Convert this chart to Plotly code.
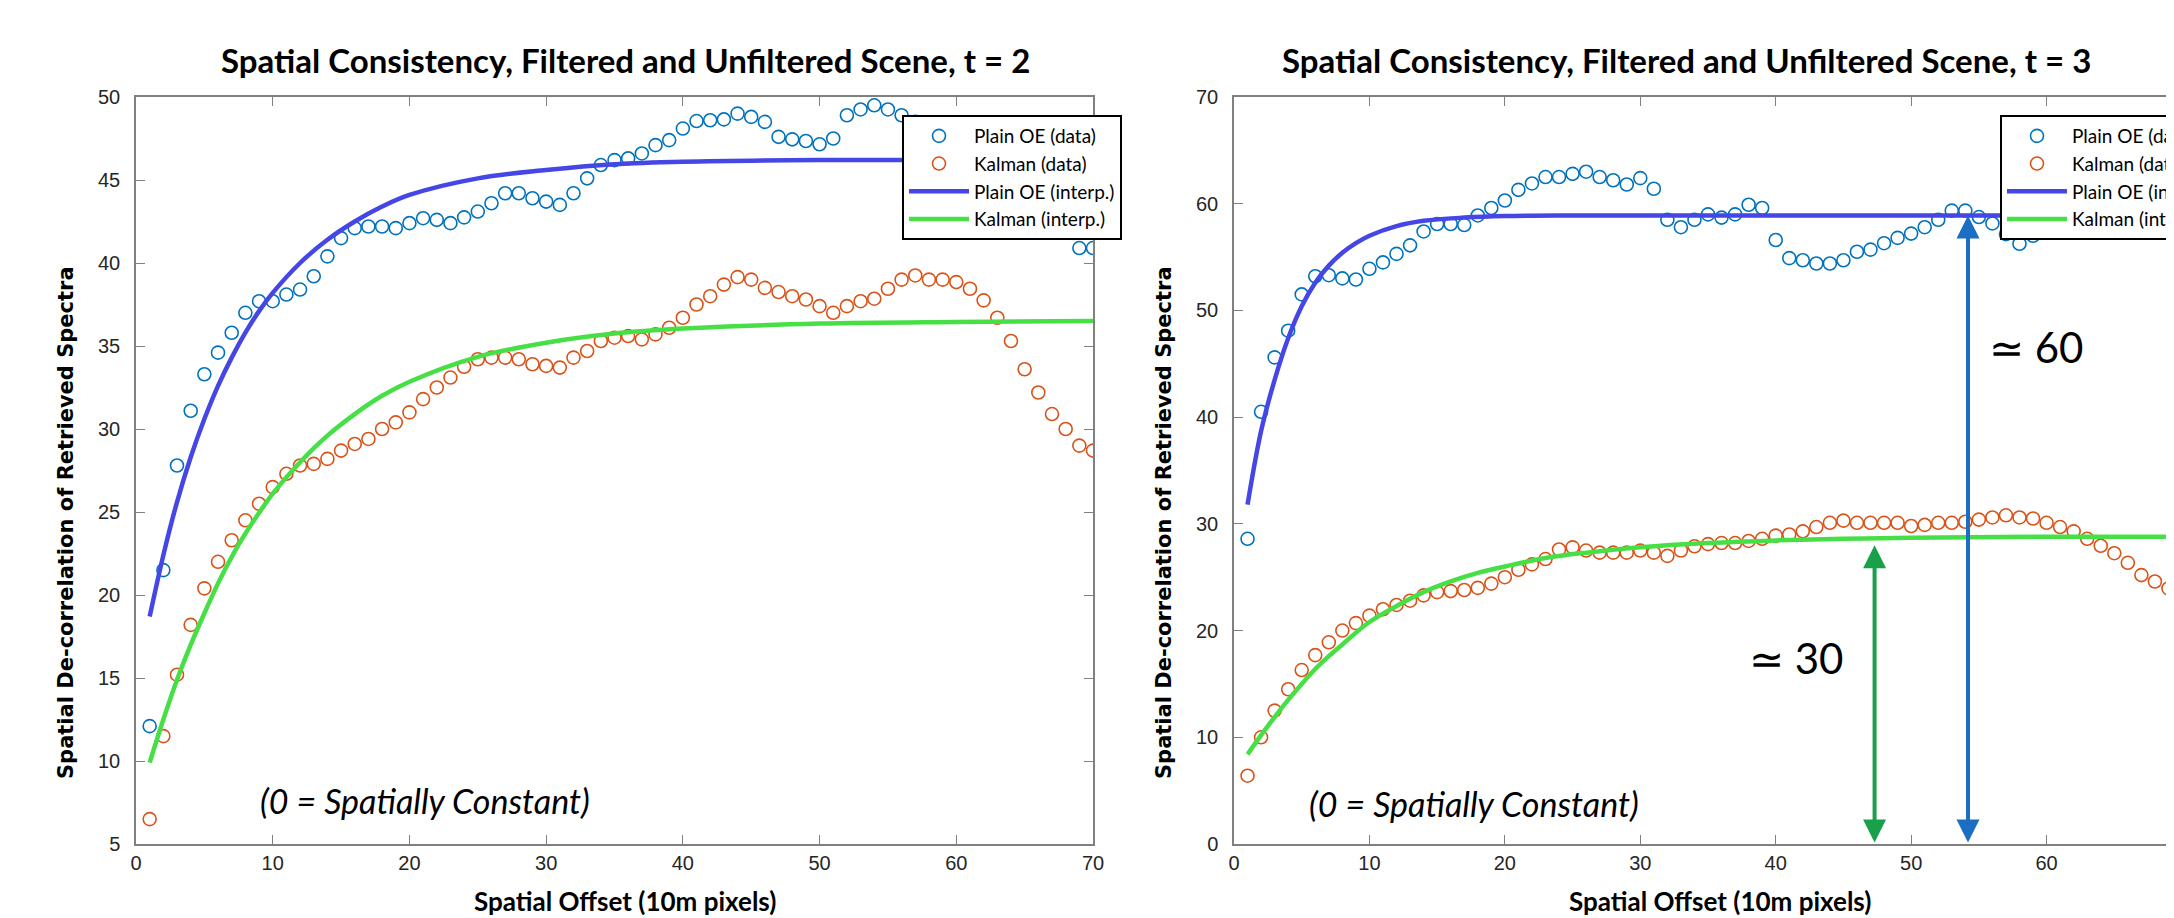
import plotly.graph_objects as go

# ---------------- data ----------------
offsets = list(range(1, 71))

left_plain = [12.1, 21.5, 27.8, 31.1, 33.3, 34.6, 35.8, 37.0, 37.7, 37.7,
              38.1, 38.4, 39.2, 40.4, 41.5, 42.1, 42.2, 42.2, 42.1, 42.4,
              42.7, 42.6, 42.4, 42.75, 43.1, 43.6, 44.2, 44.2, 43.9, 43.7,
              43.5, 44.2, 45.1, 45.9, 46.2, 46.3, 46.6, 47.1, 47.4, 48.1,
              48.55, 48.6, 48.65, 49.0, 48.8, 48.5, 47.6, 47.45, 47.35, 47.15,
              47.5, 48.9, 49.25, 49.5, 49.25, 48.9, 48.5, 48.2, 47.9, 47.6,
              47.2, 46.7, 46.1, 45.5, 44.8, 44.0, 43.2, 42.4, 40.9, 40.9]
left_kalman = [6.5, 11.5, 15.2, 18.2, 20.4, 22.0, 23.3, 24.5, 25.5, 26.5,
               27.3, 27.8, 27.9, 28.2, 28.7, 29.1, 29.4, 30.0, 30.4, 31.0,
               31.8, 32.5, 33.1, 33.75, 34.2, 34.3, 34.3, 34.2, 33.9, 33.8,
               33.7, 34.3, 34.7, 35.3, 35.5, 35.6, 35.4, 35.7, 36.1, 36.7,
               37.5, 38.0, 38.7, 39.15, 39.0, 38.5, 38.25, 38.0, 37.8, 37.4,
               37.0, 37.4, 37.7, 37.85, 38.45, 39.0, 39.25, 39.0, 39.0, 38.85,
               38.45, 37.75, 36.7, 35.3, 33.6, 32.2, 30.9, 30.0, 29.0, 28.7]

left_plain_fit_x = [1, 2, 3, 4, 5, 6, 7, 8, 9, 10, 12, 14, 16, 18, 20, 25, 30, 35, 40, 50, 60, 70]
left_plain_fit_y = [18.7, 22.4, 25.6, 28.3, 30.6, 32.6, 34.3, 35.8, 37.1, 38.2, 40.0, 41.4,
                    42.5, 43.4, 44.1, 45.1, 45.6, 45.95, 46.1, 46.2, 46.2, 46.2]
left_kalman_fit_x = [1, 2, 3, 4, 5, 6, 7, 8, 10, 12, 14, 16, 18, 20, 25, 30, 35, 40, 50, 60, 70]
left_kalman_fit_y = [9.9, 12.5, 14.9, 17.0, 18.9, 20.7, 22.3, 23.7, 26.1, 28.0, 29.6, 30.9,
                     32.0, 32.85, 34.35, 35.2, 35.75, 36.05, 36.35, 36.45, 36.5]

right_plain = [28.6, 40.5, 45.6, 48.1, 51.5, 53.2, 53.3, 53.0, 52.9, 53.9,
               54.5, 55.3, 56.1, 57.4, 58.1, 58.1, 58.0, 58.9, 59.6, 60.3,
               61.3, 61.9, 62.5, 62.5, 62.8, 63.0, 62.5, 62.2, 61.8, 62.4,
               61.4, 58.5, 57.8, 58.5, 59.0, 58.7, 59.0, 59.9, 59.6, 56.6,
               54.9, 54.7, 54.4, 54.4, 54.7, 55.5, 55.7, 56.3, 56.8, 57.2,
               57.8, 58.5, 59.35, 59.35, 58.75, 58.15, 57.15, 56.25, 57.0, 57.9,
               58.6, 59.1, 59.4, 59.6, 59.5, 59.3, 59.0, 58.8, 58.6, 58.5]
right_kalman = [6.4, 10.0, 12.5, 14.5, 16.3, 17.7, 18.9, 20.0, 20.7, 21.4,
                22.0, 22.4, 22.8, 23.3, 23.6, 23.7, 23.8, 24.0, 24.4, 25.0,
                25.7, 26.2, 26.7, 27.6, 27.8, 27.5, 27.3, 27.3, 27.3, 27.5,
                27.3, 27.0, 27.5, 27.9, 28.1, 28.2, 28.2, 28.4, 28.6, 28.9,
                29.0, 29.3, 29.7, 30.1, 30.3, 30.1, 30.1, 30.1, 30.1, 29.8,
                29.9, 30.1, 30.1, 30.2, 30.4, 30.6, 30.8, 30.6, 30.5, 30.1,
                29.7, 29.3, 28.6, 27.95, 27.25, 26.35, 25.2, 24.6, 23.95, 23.35]

right_plain_fit_x = [1, 2, 3, 4, 5, 6, 7, 8, 9, 10, 12, 14, 17, 20, 25, 40, 55, 70]
right_plain_fit_y = [31.8, 38.7, 43.5, 47.4, 50.4, 52.6, 54.2, 55.4, 56.3, 57.0, 57.9, 58.4,
                     58.7, 58.85, 58.9, 58.9, 58.9, 58.9]
right_kalman_fit_x = [1, 2, 3, 4, 5, 6, 7, 8, 10, 12, 14, 16, 18, 20, 23, 26, 30, 35, 40, 45, 50, 60, 70]
right_kalman_fit_y = [8.4, 10.2, 11.9, 13.5, 15.0, 16.4, 17.6, 18.7, 20.8, 22.3, 23.6, 24.6,
                      25.4, 26.0, 26.8, 27.3, 27.8, 28.2, 28.45, 28.6, 28.7, 28.8, 28.8]

series_names = ["Plain OE (data)", "Kalman (data)", "Plain OE (interp.)", "Kalman (interp.)"]
titles = ["Spatial Consistency, Filtered and Unfiltered Scene, t = 2",
          "Spatial Consistency, Filtered and Unfiltered Scene, t = 3"]
x_title = "Spatial Offset (10m pixels)"
y_title = "Spatial De-correlation of Retrieved Spectra"
note_text = "(0 = Spatially Constant)"
left_yticks = list(range(5, 51, 5))
right_yticks = list(range(0, 71, 10))
xticks = list(range(0, 71, 10))

# arrows on right panel (x position, top value)
blue_arrow = (54.2, 58.9)
green_arrow = (47.3, 28.0)

# ---------------- styles ----------------
C_BLUE_PT = "#0072BD"
C_ORANGE_PT = "#D95319"
C_BLUE_LN = "#4646E6"
C_GREEN_LN = "#46E046"
W, H = 2174, 918
TITLE_FONT = "Lato, 'Open Sans', sans-serif"
TICK_FONT = dict(family="'Liberation Sans', Arial, sans-serif", size=20, color="#262626")

fig = go.Figure()


def add_panel(xa, ya, leg, plain, kalman, pfx, pfy, kfx, kfy):
    fig.add_trace(go.Scatter(x=offsets, y=plain, mode="markers", name=series_names[0],
                             marker=dict(symbol="circle-open", size=13, color=C_BLUE_PT,
                                         line=dict(width=1.6, color=C_BLUE_PT)),
                             xaxis=xa, yaxis=ya, legend=leg))
    fig.add_trace(go.Scatter(x=offsets, y=kalman, mode="markers", name=series_names[1],
                             marker=dict(symbol="circle-open", size=13, color=C_ORANGE_PT,
                                         line=dict(width=1.6, color=C_ORANGE_PT)),
                             xaxis=xa, yaxis=ya, legend=leg))
    fig.add_trace(go.Scatter(x=pfx, y=pfy, mode="lines", name=series_names[2],
                             line=dict(color=C_BLUE_LN, width=4.5, shape="spline"),
                             xaxis=xa, yaxis=ya, legend=leg))
    fig.add_trace(go.Scatter(x=kfx, y=kfy, mode="lines", name=series_names[3],
                             line=dict(color=C_GREEN_LN, width=4.5, shape="spline"),
                             xaxis=xa, yaxis=ya, legend=leg))


add_panel("x", "y", "legend", left_plain, left_kalman,
          left_plain_fit_x, left_plain_fit_y, left_kalman_fit_x, left_kalman_fit_y)
add_panel("x2", "y2", "legend2", right_plain, right_kalman,
          right_plain_fit_x, right_plain_fit_y, right_kalman_fit_x, right_kalman_fit_y)

ydom = [1 - 836 / H, 1 - 89 / H]
axis_common = dict(showline=True, linecolor="#808080", linewidth=1.5, mirror="ticks",
                   ticks="inside", ticklen=9, tickwidth=1.2, tickcolor="#808080",
                   showgrid=False, zeroline=False, tickfont=TICK_FONT)

legend_common = dict(y=1 - 107 / H, xanchor="left", yanchor="top",
                     bgcolor="white", bordercolor="black", borderwidth=2,
                     font=dict(family=TITLE_FONT, size=19, color="black"),
                     itemwidth=60, tracegroupgap=0)

fig.update_layout(
    width=W, height=H,
    margin=dict(l=0, r=0, t=0, b=0, autoexpand=False),
    paper_bgcolor="white", plot_bgcolor="white",
    xaxis=dict(domain=[128 / W, 1085 / W], range=[0, 70], tickvals=xticks,
               anchor="y", ticklabelstandoff=0, **axis_common),
    yaxis=dict(domain=ydom, range=[5, 50], tickvals=left_yticks,
               anchor="x", ticklabelstandoff=10, **axis_common),
    xaxis2=dict(domain=[1226 / W, 1.0], range=[0, 70], tickvals=xticks,
                anchor="y2", ticklabelstandoff=0, **axis_common),
    yaxis2=dict(domain=ydom, range=[0, 70], tickvals=right_yticks,
                anchor="x2", ticklabelstandoff=10, **axis_common),
    legend=dict(x=894 / W, **legend_common),
    legend2=dict(x=1992 / W, **legend_common),
    showlegend=True,
)

ann = []
# titles
for cx, t in [(617, titles[0]), (1678, titles[1])]:
    ann.append(dict(text="<b>%s</b>" % t, x=cx / W, y=1 - 52 / H, xref="paper", yref="paper",
                    showarrow=False, xanchor="center", yanchor="middle",
                    font=dict(family=TITLE_FONT, size=33, color="black")))
# x titles
for cx in [617, 1712]:
    ann.append(dict(text="<b>%s</b>" % x_title, x=cx / W, y=1 - 893 / H, xref="paper", yref="paper",
                    showarrow=False, xanchor="center", yanchor="middle",
                    font=dict(family=TITLE_FONT, size=26, color="black")))
# y titles
for cx in [58, 1156]:
    ann.append(dict(text="<b>%s</b>" % y_title, x=cx / W, y=1 - 515 / H, xref="paper", yref="paper",
                    showarrow=False, xanchor="center", yanchor="middle", textangle=-90,
                    font=dict(family="'DejaVu Sans', Verdana, sans-serif", size=21, color="black")))
# notes
ann.append(dict(text="<i>%s</i>" % note_text, x=8.9, y=7.6, xref="x", yref="y",
                showarrow=False, xanchor="left", yanchor="middle",
                font=dict(family=TITLE_FONT, size=34, color="black")))
ann.append(dict(text="<i>%s</i>" % note_text, x=5.4, y=3.8, xref="x2", yref="y2",
                showarrow=False, xanchor="left", yanchor="middle",
                font=dict(family=TITLE_FONT, size=34, color="black")))
# approx labels
ann.append(dict(text="\u2243 60", x=55.6, y=46.6, xref="x2", yref="y2",
                showarrow=False, xanchor="left", yanchor="middle",
                font=dict(family=TITLE_FONT, size=42, color="black")))
ann.append(dict(text="\u2243 30", x=37.9, y=17.4, xref="x2", yref="y2",
                showarrow=False, xanchor="left", yanchor="middle",
                font=dict(family=TITLE_FONT, size=42, color="black")))
# double arrows
for (ax_x, top), col in [(blue_arrow, "#1B6EC2"), (green_arrow, "#19A04B")]:
    ann.append(dict(text="", x=ax_x, y=top, ax=ax_x, ay=0, xref="x2", yref="y2",
                    axref="x2", ayref="y2", showarrow=True, arrowhead=2, startarrowhead=2,
                    arrowside="end+start", arrowwidth=4, arrowsize=1.15, startarrowsize=1.15,
                    arrowcolor=col, standoff=0, startstandoff=0))

fig.update_layout(annotations=ann)
fig.write_html("out.html")
